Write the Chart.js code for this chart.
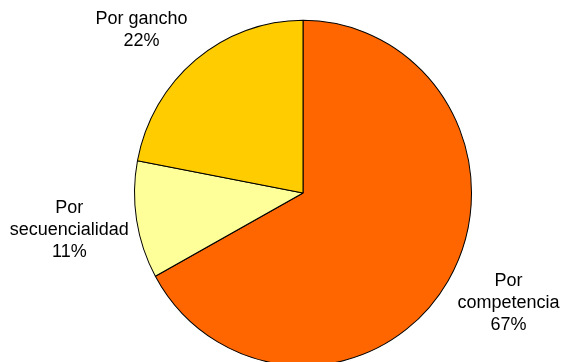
<!DOCTYPE html>
<html>
<head>
<meta charset="utf-8">
<script src="https://cdn.jsdelivr.net/npm/chart.js@4"></script>
<style>
  html, body { margin: 0; padding: 0; background: #fff; }
  #wrap { width: 564px; height: 362px; position: relative; }
</style>
</head>
<body>
<div id="wrap"><canvas id="pieChart"></canvas></div>
<script>
const labels  = [['Por', 'competencia'], ['Por', 'secuencialidad'], ['Por gancho']];
const values  = [67, 11, 22];
const colors  = ['#FF6600', '#FFFF99', '#FFCC00'];
// small hand nudges for the outside labels (Excel "best fit" style)
const labelNudge = [[1, -14], [1, -1], [-10, 25]];

const stretchY = 1.025; // the original pie is a touch taller than wide
const labelDist = 1.41;

const stretchPlugin = {
  id: 'stretch',
  beforeDatasetsDraw(chart) {
    const arc = chart.getDatasetMeta(0).data[0];
    const ctx = chart.ctx;
    ctx.save();
    ctx.translate(arc.x, arc.y);
    ctx.scale(1, stretchY);
    ctx.translate(-arc.x, -arc.y);
  },
  afterDatasetsDraw(chart) {
    chart.ctx.restore();
  }
};

const labelPlugin = {
  id: 'outLabels',
  afterDraw(chart) {
    const ctx = chart.ctx;
    const meta = chart.getDatasetMeta(0);
    ctx.save();
    ctx.font = '18px "Liberation Sans", Arial, sans-serif';
    ctx.fillStyle = '#000';
    ctx.textAlign = 'center';
    ctx.textBaseline = 'middle';
    meta.data.forEach((arc, i) => {
      const mid = (arc.startAngle + arc.endAngle) / 2;
      const r = arc.outerRadius * labelDist;
      const x = arc.x + Math.cos(mid) * r + labelNudge[i][0];
      const y = arc.y + Math.sin(mid) * r * stretchY + labelNudge[i][1];
      const lines = [...labels[i], values[i] + '%'];
      const lh = 22;
      const top = y - (lines.length - 1) * lh / 2;
      lines.forEach((t, j) => ctx.fillText(t, x, top + j * lh));
    });
    ctx.restore();
  }
};

new Chart(document.getElementById('pieChart'), {
  type: 'pie',
  data: {
    labels: labels.map(l => l.join(' ')),
    datasets: [{
      data: values,
      backgroundColor: colors,
      borderColor: '#000',
      borderWidth: 1,
      clip: false
    }]
  },
  options: {
    responsive: true,
    maintainAspectRatio: false,
    animation: false,
    layout: { padding: { left: 134, right: 92, top: 24, bottom: 0 } },
    plugins: {
      legend: { display: false },
      tooltip: { enabled: false }
    }
  },
  plugins: [stretchPlugin, labelPlugin]
});
</script>
</body>
</html>
